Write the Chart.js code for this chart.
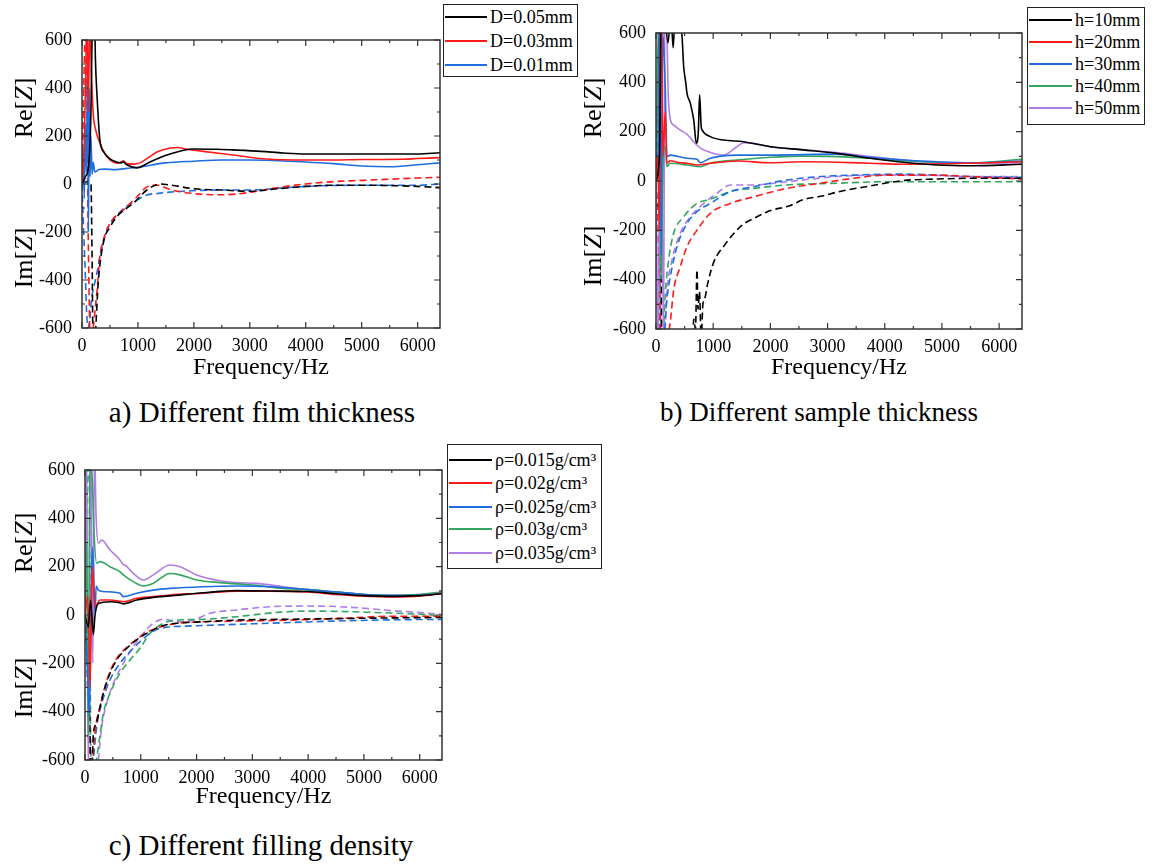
<!DOCTYPE html>
<html>
<head>
<meta charset="utf-8">
<script src="https://cdn.jsdelivr.net/npm/chart.js@4.4.0/dist/chart.umd.min.js"></script>
<style>
  body { margin: 0; background: #fff; }
  #page { position: relative; width: 1157px; height: 866px; font-family: 'Liberation Serif', 'Times New Roman', serif; color: #000; }
  canvas { position: absolute; }
  .ylab { position: absolute; font-size: 26px; transform: translate(-50%, -50%) rotate(-90deg); white-space: nowrap; }
  .caption { position: absolute; font-size: 29px; transform: translate(-50%, -50%); white-space: nowrap; }
  .legend { position: absolute; border: 1.5px solid #222; box-sizing: border-box; background: #fff; }
  .legend .row { position: absolute; height: 22px; line-height: 22px; font-size: 18px; white-space: nowrap; }
  .legend .swatch { position: absolute; height: 0; border-top: 2px solid; }
</style>
</head>
<body>
<div id="page">
  <canvas id="chartA" width="445" height="388" style="left:0;top:0"></canvas>
  <canvas id="chartB" width="457" height="389" style="left:570px;top:0"></canvas>
  <canvas id="chartC" width="447" height="380" style="left:0;top:440px"></canvas>

  <div class="ylab" style="left:24px;top:108px">Re[<i>Z</i>]</div>
  <div class="ylab" style="left:24px;top:258px">Im[<i>Z</i>]</div>
  <div class="ylab" style="left:593px;top:108px">Re[<i>Z</i>]</div>
  <div class="ylab" style="left:593px;top:256px">Im[<i>Z</i>]</div>
  <div class="ylab" style="left:24px;top:543px">Re[<i>Z</i>]</div>
  <div class="ylab" style="left:24px;top:688px">Im[<i>Z</i>]</div>

  <div class="caption" style="left:262px;top:412px">a) Different film thickness</div>
  <div class="caption" style="left:819px;top:412px;font-size:27px">b) Different sample thickness</div>
  <div class="caption" style="left:261px;top:845px">c) Different filling density</div>

  <div id="legendA" class="legend"></div>
  <div id="legendB" class="legend"></div>
  <div id="legendC" class="legend"></div>
</div>
<script>
// ---- axes ----
const xMin = 0, xMax = 6400;
const yMin = -600, yMax = 600;
const xTicks = [0, 1000, 2000, 3000, 4000, 5000, 6000];
const yTicks = [-600, -400, -200, 0, 200, 400, 600];
const xMinorStep = 500, yMinorStep = 100;

// ---- a) film thickness: [frequency Hz, value] ----
const labelsA = ['D=0.05mm', 'D=0.03mm', 'D=0.01mm'];
const aReBlack = [[0,0],[60,30],[120,80],[160,300],[185,700],[210,900],[240,520],[270,362],[320,183],[400,130],[500,105],[620,92],[700,88],[740,92],[800,80],[980,67],[1200,90],[1520,121],[2000,146],[2400,145],[2700,142],[3200,136],[3600,129],[4000,125],[5000,125],[6000,125],[6400,130]];
const aReRed = [[0,0],[40,150],[70,500],[90,900],[110,300],[140,650],[170,450],[200,296],[250,220],[320,171],[400,130],[500,100],[620,87],[700,92],[740,97],[800,85],[920,83],[1040,88],[1200,112],[1340,133],[1580,150],[1700,152],[1880,145],[2200,135],[2700,121],[3300,104],[4000,100],[4500,100],[5000,102],[5700,103],[6000,106],[6400,110]];
const aReBlue = [[0,0],[20,150],[40,-60],[60,250],[80,50],[100,600],[115,-200],[130,400],[145,30],[160,200],[180,40],[200,90],[230,50],[300,60],[400,62],[600,60],[800,65],[1000,70],[1500,88],[2000,95],[2500,100],[3000,100],[3700,95],[4500,85],[5000,75],[5500,72],[6000,80],[6400,88]];
const aImBlack = [[0,0],[100,10],[160,0],[180,-300],[200,-700],[240,-620],[290,-412],[380,-246],[500,-180],[620,-137],[800,-100],[920,-80],[1160,-25],[1400,0],[1600,-5],[2000,-20],[2500,-25],[3000,-30],[3500,-20],[4000,-10],[4500,-5],[5000,-5],[6000,-10],[6400,-15]];
const aImRed = [[0,0],[40,500],[70,700],[100,0],[130,-500],[150,-700],[200,-600],[270,-441],[320,-300],[400,-220],[500,-163],[740,-108],[980,-54],[1160,-12],[1340,-5],[1600,-25],[2100,-42],[2500,-45],[3000,-35],[3500,-15],[4000,0],[4500,10],[5000,15],[5500,20],[6000,25],[6400,28]];
const aImBlue = [[0,0],[30,-200],[60,-380],[80,-520],[110,-600],[140,-560],[170,-480],[220,-420],[260,-380],[320,-303],[450,-192],[680,-117],[980,-67],[1160,-46],[1400,-38],[1800,-30],[2500,-25],[3000,-25],[3500,-18],[4000,-10],[5000,-5],[6000,-5],[6400,0]];

// ---- b) sample thickness ----
const labelsB = ['h=10mm', 'h=20mm', 'h=30mm', 'h=40mm', 'h=50mm'];
const bReBlack = [[0,0],[60,100],[100,900],[150,700],[210,560],[260,680],[300,540],[340,700],[400,620],[450,600],[484,463],[520,400],[542,355],[600,315],[660,247],[705,153],[740,200],[763,349],[790,220],[805,207],[950,180],[1183,166],[1533,159],[2000,139],[2580,126],[3164,112],[3747,92],[4330,76],[4912,65],[5495,62],[6400,68]];
const bReRed = [[0,0],[30,100],[60,-200],[90,900],[120,100],[163,281],[190,72],[250,82],[400,75],[542,72],[717,65],[950,72],[1416,81],[2000,74],[2580,78],[3164,76],[3747,72],[4330,68],[5495,72],[6400,78]];
const bReBlue = [[0,0],[40,150],[60,900],[90,-300],[120,600],[163,370],[190,99],[250,105],[542,92],[717,88],[775,74],[950,92],[1416,105],[2000,105],[3164,109],[3747,96],[4330,85],[4912,78],[5495,74],[6400,81]];
const bReGreen = [[0,0],[50,700],[90,-400],[130,120],[163,139],[190,58],[250,72],[542,65],[775,58],[950,72],[1416,85],[2000,96],[2580,101],[3164,99],[3747,92],[4330,82],[4912,76],[5495,72],[6400,88]];
const bRePurple = [[0,0],[40,-700],[80,900],[130,-700],[160,900],[192,600],[210,380],[250,250],[320,225],[420,207],[540,190],[660,159],[711,146],[800,130],[950,116],[1183,105],[1416,139],[1533,155],[1707,153],[2000,139],[2580,126],[3164,115],[3747,99],[4330,85],[4912,74],[5495,72],[6400,74]];
const bImBlack = [[0,0],[80,0],[105,-700],[200,-900],[620,-900],[660,-560],[690,-600],[717,-360],[735,-520],[760,-450],[790,-640],[820,-500],[860,-470],[900,-420],[1008,-330],[1200,-260],[1500,-180],[1760,-146],[2000,-120],[2343,-100],[2580,-75],[2926,-60],[3164,-45],[3747,-20],[4330,2],[4912,8],[5495,11],[6400,11]];
const bImRed = [[0,0],[50,-300],[90,-700],[190,-650],[250,-570],[309,-442],[425,-347],[542,-266],[717,-199],[950,-131],[1300,-91],[1707,-64],[2290,-30],[2873,-9],[3456,11],[4038,24],[4912,24],[5495,18],[6400,8]];
const bImBlue = [[0,0],[40,-200],[80,-700],[134,-650],[190,-482],[250,-388],[367,-266],[542,-172],[717,-124],[950,-91],[1300,-43],[1707,-23],[2290,4],[2873,18],[3456,24],[4330,28],[4912,24],[5495,18],[6400,15]];
const bImGreen = [[0,0],[30,300],[60,-300],[105,-700],[163,-455],[221,-320],[309,-212],[484,-145],[717,-91],[950,-74],[1300,-43],[1707,-30],[2290,-16],[3164,-9],[4038,-3],[6400,-3]];
const bImPurple = [[0,0],[50,200],[90,-700],[134,-700],[190,-455],[280,-320],[425,-212],[600,-145],[833,-91],[1066,-50],[1300,-16],[1707,-16],[2290,-3],[3164,18],[4038,24],[4912,22],[5495,18],[6400,18]];

// ---- c) filling density ----
const labelsC = ['ρ=0.015g/cm³', 'ρ=0.02g/cm³', 'ρ=0.025g/cm³', 'ρ=0.03g/cm³', 'ρ=0.035g/cm³'];
const cReBlack = [[0,0],[60,-50],[100,60],[150,-80],[180,0],[240,48],[448,55],[600,52],[687,46],[926,62],[1225,73],[1523,79],[2121,92],[2718,101],[3315,99],[4000,97],[4500,88],[5000,80],[5500,77],[6000,80],[6400,88]];
const cReRed = [[0,0],[50,80],[90,-300],[130,200],[180,34],[269,62],[448,62],[687,55],[926,69],[1225,76],[1523,83],[2121,90],[2718,99],[3315,99],[4000,95],[4500,85],[5000,78],[5500,75],[6000,78],[6400,90]];
const cReBlue = [[0,0],[40,-200],[80,-420],[110,100],[130,280],[150,214],[165,90],[180,7],[200,120],[240,103],[329,97],[627,90],[687,76],[926,90],[1225,103],[1523,110],[2121,117],[2718,120],[3315,117],[4000,105],[4500,95],[5000,85],[5500,80],[6000,82],[6400,90]];
const cReGreen = [[0,0],[30,300],[60,-500],[90,700],[130,560],[160,350],[209,214],[269,221],[448,200],[627,179],[687,166],[866,138],[1045,120],[1225,131],[1523,172],[1702,166],[2001,145],[2419,134],[3016,124],[3554,110],[4000,105],[4500,95],[5000,85],[5500,82],[6000,85],[6400,95]];
const cRePurple = [[0,0],[30,700],[60,-700],[100,800],[140,-200],[170,700],[200,400],[240,297],[300,310],[448,269],[627,228],[680,210],[717,207],[866,172],[1045,145],[1225,166],[1523,207],[1702,200],[2001,166],[2419,142],[2718,134],[3076,131],[3554,117],[4000,105],[4500,95],[5000,85],[5500,82],[6000,85],[6400,90]];
const cImBlack = [[0,0],[60,-200],[100,-600],[120,-650],[150,-490],[200,-450],[269,-380],[329,-324],[448,-241],[567,-186],[747,-138],[926,-103],[1105,-76],[1344,-48],[1643,-34],[2121,-28],[2718,-21],[3554,-18],[4500,-15],[5500,-12],[6400,-10]];
const cImRed = [[0,0],[70,-300],[110,-700],[150,-560],[200,-450],[269,-380],[329,-320],[448,-235],[567,-180],[747,-135],[926,-100],[1105,-72],[1344,-50],[1643,-35],[2121,-28],[2718,-25],[3554,-22],[4500,-15],[5500,-5],[6400,-5]];
const cImBlue = [[0,0],[40,-200],[70,-550],[110,-700],[150,-600],[209,-462],[300,-366],[448,-269],[627,-200],[807,-152],[986,-110],[1165,-76],[1344,-55],[1822,-46],[2419,-41],[3315,-34],[4500,-25],[5500,-20],[6400,-18]];
const cImGreen = [[0,0],[40,500],[70,700],[110,-700],[170,-650],[240,-545],[329,-407],[448,-324],[627,-241],[807,-186],[986,-138],[1165,-76],[1404,-34],[1702,-21],[2121,-18],[2718,-7],[3000,0],[3500,12],[4000,16],[4500,15],[5000,12],[5500,8],[6000,3],[6400,-3]];
const cImPurple = [[0,0],[120,-700],[200,-700],[240,-600],[300,-462],[388,-366],[508,-283],[687,-200],[866,-131],[1045,-76],[1225,-34],[1404,-18],[1702,-28],[1941,-21],[2240,7],[2718,21],[3315,34],[4000,37],[4500,35],[5000,28],[5500,18],[6000,10],[6400,3]];

const colors = ['#000000', '#ff1a1a', '#1f6de0', '#33a660', '#b07de8'];

// frame with inward major/minor ticks on all four sides
const plotFrame = {
  id: 'plotFrame',
  afterDatasetsDraw(chart) {
    const { ctx, chartArea: a, scales: { x, y } } = chart;
    ctx.save();
    ctx.strokeStyle = '#333';
    ctx.lineWidth = 1.5;
    ctx.strokeRect(a.left, a.top, a.right - a.left, a.bottom - a.top);
    ctx.lineWidth = 1.2;
    ctx.beginPath();
    const tickSet = (scale, minor) => {
      const out = scale.ticks.map(t => [t.value, 6]);
      for (let v = scale.min + minor; v < scale.max; v += minor) {
        if (!out.some(o => o[0] === v)) out.push([v, 3]);
      }
      return out;
    };
    tickSet(x, xMinorStep).forEach(([v, len]) => {
      const px = x.getPixelForValue(v);
      ctx.moveTo(px, a.bottom); ctx.lineTo(px, a.bottom - len);
      ctx.moveTo(px, a.top); ctx.lineTo(px, a.top + len);
    });
    tickSet(y, yMinorStep).forEach(([v, len]) => {
      const py = y.getPixelForValue(v);
      ctx.moveTo(a.left, py); ctx.lineTo(a.left + len, py);
      ctx.moveTo(a.right, py); ctx.lineTo(a.right - len, py);
    });
    ctx.stroke();
    ctx.restore();
  }
};

function series(pairs, color, dashed) {
  return {
    data: pairs.map(p => ({ x: p[0], y: p[1] })),
    borderColor: color,
    borderWidth: 1.6,
    borderDash: dashed ? [7, 4] : [],
    pointRadius: 0,
    cubicInterpolationMode: 'monotone',
    fill: false
  };
}

function makeChart(id, re, im, g) {
  const datasets = [];
  re.forEach((s, i) => datasets.push(series(s, colors[i], false)));
  im.forEach((s, i) => datasets.push(series(s, colors[i], true)));
  const tickFont = { family: "'Liberation Serif', 'Times New Roman', serif", size: 18 };
  return new Chart(document.getElementById(id), {
    type: 'line',
    data: { datasets },
    options: {
      responsive: false,
      animation: false,
      layout: { padding: { top: g.padTop, right: 5, left: 0, bottom: 0 } },
      plugins: { legend: { display: false }, tooltip: { enabled: false } },
      scales: {
        x: {
          type: 'linear', min: xMin, max: xMax,
          afterBuildTicks(scale) { scale.ticks = xTicks.map(v => ({ value: v })); },
          ticks: { color: '#000', font: tickFont, padding: 7, maxRotation: 0, autoSkip: false, callback: v => String(v) },
          grid: { display: false, drawTicks: false },
          border: { display: false },
          title: { display: true, text: 'Frequency/Hz', color: '#000', font: { family: tickFont.family, size: 24 }, padding: { top: 0, bottom: g.titlePad } },
          afterFit(scale) { scale.height = 60; }
        },
        y: {
          type: 'linear', min: yMin, max: yMax,
          afterBuildTicks(scale) { scale.ticks = yTicks.map(v => ({ value: v })); },
          ticks: { color: '#000', font: tickFont, padding: 10, autoSkip: false, callback: v => String(v) },
          grid: { display: false, drawTicks: false },
          border: { display: false },
          afterFit(scale) { scale.width = g.yWidth; }
        }
      }
    },
    plugins: [plotFrame]
  });
}

function buildLegend(id, labels, box) {
  const el = document.getElementById(id);
  el.style.left = box.left + 'px';
  el.style.top = box.top + 'px';
  el.style.width = box.width + 'px';
  el.style.height = box.height + 'px';
  labels.forEach((txt, i) => {
    const cy = box.rows[i];
    const sw = document.createElement('div');
    sw.className = 'swatch';
    sw.style.left = box.lineX0 + 'px';
    sw.style.width = (box.lineX1 - box.lineX0) + 'px';
    sw.style.top = (cy - 1) + 'px';
    sw.style.borderTopColor = colors[i];
    el.appendChild(sw);
    const row = document.createElement('div');
    row.className = 'row';
    row.style.left = box.textX + 'px';
    row.style.top = (cy - 11) + 'px';
    row.textContent = txt;
    el.appendChild(row);
  });
}

makeChart('chartA', [aReBlack, aReRed, aReBlue], [aImBlack, aImRed, aImBlue], { padTop: 40, yWidth: 82, titlePad: 6 });
makeChart('chartB', [bReBlack, bReRed, bReBlue, bReGreen, bRePurple], [bImBlack, bImRed, bImBlue, bImGreen, bImPurple], { padTop: 33, yWidth: 86, titlePad: 7 });
makeChart('chartC', [cReBlack, cReRed, cReBlue, cReGreen, cRePurple], [cImBlack, cImRed, cImBlue, cImGreen, cImPurple], { padTop: 30, yWidth: 85, titlePad: 9 });

buildLegend('legendA', labelsA, { left: 443, top: 4, width: 135, height: 73, rows: [12, 36, 60], lineX0: 1, lineX1: 43, textX: 46 });
buildLegend('legendB', labelsB, { left: 1027, top: 7, width: 118, height: 118, rows: [12, 34, 56, 78, 100], lineX0: 1, lineX1: 44, textX: 47 });
buildLegend('legendC', labelsC, { left: 447, top: 444, width: 155, height: 125, rows: [15, 38, 62, 84, 108], lineX0: 1, lineX1: 44, textX: 47 });
</script>
</body>
</html>
